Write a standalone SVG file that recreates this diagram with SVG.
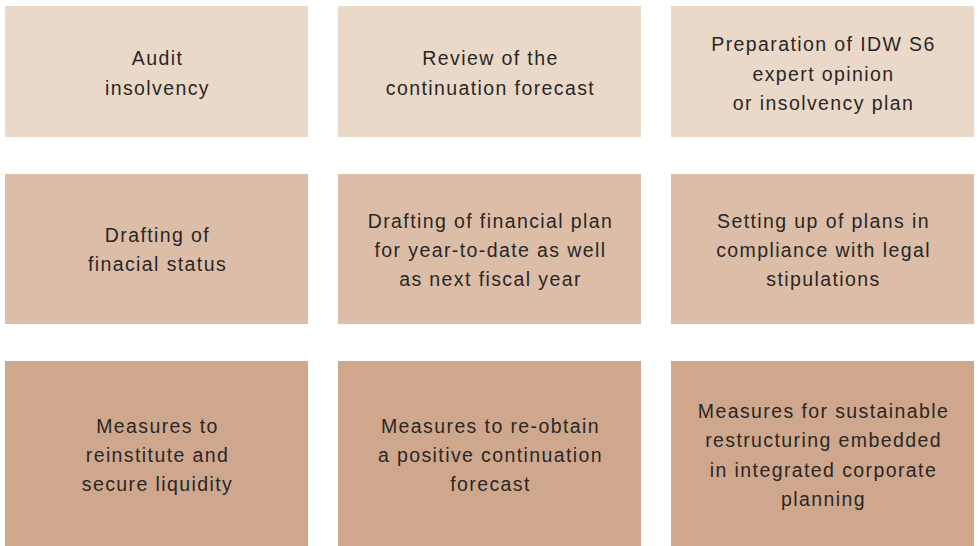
<svg xmlns="http://www.w3.org/2000/svg" width="978" height="546" viewBox="0 0 978 546">
<style>
.r1{fill:#EAD8C9}
.r2{fill:#DCBDA8}
.r3{fill:#CFA78D}
text{font-family:"Liberation Sans",Arial,sans-serif;font-size:19.5px;letter-spacing:1.4px;fill:#2A2725;text-anchor:middle}
</style>
<rect width="978" height="546" fill="#FFFFFF"/>
<g id="n1"><rect class="r1" x="5" y="6" width="303" height="131"/>
<text><tspan x="157.5" y="65">Audit</tspan><tspan x="157.5" y="95">insolvency</tspan></text></g>
<g id="n2"><rect class="r1" x="338" y="6" width="303" height="131"/>
<text><tspan x="490.5" y="65">Review of the</tspan><tspan x="490.5" y="95">continuation forecast</tspan></text></g>
<g id="n3"><rect class="r1" x="671" y="6" width="303" height="131"/>
<text><tspan x="823.5" y="51">Preparation of IDW S6</tspan><tspan x="823.5" y="81">expert opinion</tspan><tspan x="823.5" y="110">or insolvency plan</tspan></text></g>
<g id="n4"><rect class="r2" x="5" y="174" width="303" height="150"/>
<text><tspan x="157.5" y="242">Drafting of</tspan><tspan x="157.5" y="271">finacial status</tspan></text></g>
<g id="n5"><rect class="r2" x="338" y="174" width="303" height="150"/>
<text><tspan x="490.5" y="228">Drafting of financial plan</tspan><tspan x="490.5" y="257">for year-to-date as well</tspan><tspan x="490.5" y="286">as next fiscal year</tspan></text></g>
<g id="n6"><rect class="r2" x="671" y="174" width="303" height="150"/>
<text><tspan x="823.5" y="228">Setting up of plans in</tspan><tspan x="823.5" y="257">compliance with legal</tspan><tspan x="823.5" y="286">stipulations</tspan></text></g>
<g id="n7"><rect class="r3" x="5" y="361" width="303" height="185"/>
<text><tspan x="157.5" y="433">Measures to</tspan><tspan x="157.5" y="462">reinstitute and</tspan><tspan x="157.5" y="491">secure liquidity</tspan></text></g>
<g id="n8"><rect class="r3" x="338" y="361" width="303" height="185"/>
<text><tspan x="490.5" y="433">Measures to re-obtain</tspan><tspan x="490.5" y="462">a positive continuation</tspan><tspan x="490.5" y="491">forecast</tspan></text></g>
<g id="n9"><rect class="r3" x="671" y="361" width="303" height="185"/>
<text><tspan x="823.5" y="418">Measures for sustainable</tspan><tspan x="823.5" y="447">restructuring embedded</tspan><tspan x="823.5" y="477">in integrated corporate</tspan><tspan x="823.5" y="506">planning</tspan></text></g>
<g id="connectors"></g>
</svg>
